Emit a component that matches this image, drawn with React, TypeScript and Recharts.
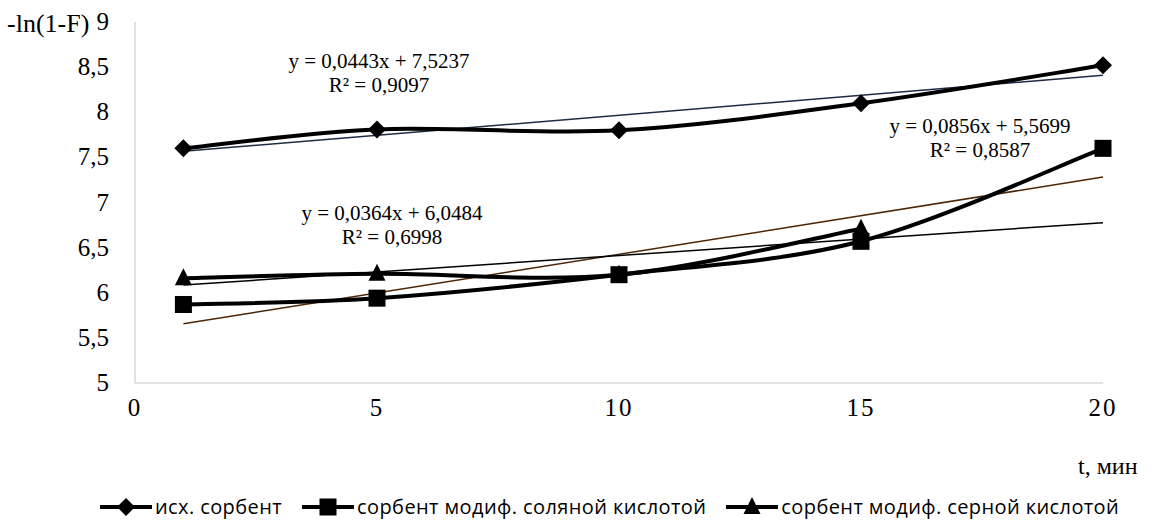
import React from "react";
import { ComposedChart, Line, XAxis, YAxis, Legend } from "recharts";

// время, мин
const timePoints = [1, 5, 10, 15, 20];
const timePointsH2SO4 = [1, 5, 10, 15];

// -ln(1-F)
const ishSorbent = [7.6, 7.81, 7.8, 8.1, 8.52];
const hclSorbent = [5.87, 5.94, 6.2, 6.57, 7.6];
const h2so4Sorbent = [6.16, 6.21, 6.2, 6.71];

// linear trend lines (from the equations shown on the chart)
const trendRange = [1, 20];
const trendSlopes = [0.0443, 0.0856, 0.0364];
const trendIntercepts = [7.5237, 5.5699, 6.0484];
const trendLabels = [
  ["y = 0,0443x + 7,5237", "R² = 0,9097"],
  ["y = 0,0856x + 5,5699", "R² = 0,8587"],
  ["y = 0,0364x + 6,0484", "R² = 0,6998"],
];

const xTicks = [0, 5, 10, 15, 20];
const yTicks = [5, 5.5, 6, 6.5, 7, 7.5, 8, 8.5, 9];

const seriesNames = [
  "исх. сорбент",
  "сорбент модиф. соляной кислотой",
  "сорбент модиф. серной кислотой",
];

const SERIF = "Liberation Serif";

const toPoints = (xs: number[], ys: number[]) => xs.map((x, i) => ({ x, y: ys[i] }));
const trendPoints = (i: number) =>
  trendRange.map((x) => ({ x, y: trendSlopes[i] * x + trendIntercepts[i] }));

// Excel-like smoothed line (Catmull-Rom through the points)
const excelSmooth = (context: any) => {
  let pts: number[][] = [];
  return {
    areaStart() {},
    areaEnd() {},
    lineStart() {
      pts = [];
    },
    lineEnd() {
      if (!pts.length) return;
      context.moveTo(pts[0][0], pts[0][1]);
      for (let i = 0; i < pts.length - 1; i++) {
        const p0 = pts[i - 1] || pts[i];
        const p1 = pts[i];
        const p2 = pts[i + 1];
        const p3 = pts[i + 2] || p2;
        context.bezierCurveTo(
          p1[0] + (p2[0] - p0[0]) / 6,
          p1[1] + (p2[1] - p0[1]) / 6,
          p2[0] - (p3[0] - p1[0]) / 6,
          p2[1] - (p3[1] - p1[1]) / 6,
          p2[0],
          p2[1]
        );
      }
    },
    point(x: number, y: number) {
      pts.push([+x, +y]);
    },
  };
};

const Marker = ({ kind, cx, cy }: { kind: string; cx: number; cy: number }) => {
  if (kind === "diamond")
    return <path d={`M${cx},${cy - 9}L${cx + 9},${cy}L${cx},${cy + 9}L${cx - 9},${cy}Z`} fill="#000" />;
  if (kind === "square") return <rect x={cx - 8.5} y={cy - 8.5} width={17} height={17} fill="#000" />;
  return <path d={`M${cx},${cy - 10}L${cx + 8.5},${cy + 7}L${cx - 8.5},${cy + 7}Z`} fill="#000" />;
};

const markerKinds = ["diamond", "square", "triangle"];

const dotFor = (kind: string) => (props: any) =>
  <Marker key={`${kind}-${props.index}`} kind={kind} cx={props.cx} cy={props.cy} />;

const XTick = ({ x, y, payload }: any) => (
  <text
    x={x}
    y={y + 25}
    textAnchor="middle"
    fontFamily={SERIF}
    fontSize={25}
    letterSpacing={2}
    fill="#000"
  >
    {payload.value}
  </text>
);

const YTick = ({ x, y, payload }: any) => (
  <text x={x - 18} y={y + 8} textAnchor="end" fontFamily={SERIF} fontSize={25} fill="#000">
    {String(payload.value).replace(".", ",")}
  </text>
);

const LegendContent = () => (
  <div
    style={{
      display: "flex",
      gap: 20,
      fontFamily: "'Open Sans', sans-serif",
      fontSize: 20,
      letterSpacing: 0.4,
      color: "#000",
      lineHeight: "26px",
    }}
  >
    {seriesNames.map((name, i) => (
      <div key={name} style={{ display: "flex", alignItems: "center" }}>
        <svg width={52} height={22}>
          <line x1={0} y1={11} x2={52} y2={11} stroke="#000" strokeWidth={4} />
          <Marker kind={markerKinds[i]} cx={26} cy={11} />
        </svg>
        <span style={{ marginLeft: 3 }}>{name}</span>
      </div>
    ))}
  </div>
);

const textStyle: React.CSSProperties = {
  position: "absolute",
  fontFamily: SERIF,
  color: "#000",
  whiteSpace: "nowrap",
};

const labelPos = [
  { left: 379, top: 49 },
  { left: 980, top: 114 },
  { left: 392, top: 201 },
];

export default function App() {
  return (
    <div style={{ position: "relative", width: 1155, height: 525, background: "#fff" }}>
      <style>{`body{margin:0}`}</style>
      <ComposedChart
        width={1155}
        height={525}
        margin={{ top: 22, right: 52, left: 0, bottom: 76 }}
      >
        <XAxis
          type="number"
          dataKey="x"
          domain={[0, 20]}
          ticks={xTicks}
          tickLine={false}
          axisLine={{ stroke: "#d9d9d9", strokeWidth: 1.5 }}
          height={40}
          tick={<XTick />}
        />
        <YAxis
          type="number"
          domain={[5, 9]}
          ticks={yTicks}
          width={135}
          tickLine={false}
          axisLine={{ stroke: "#d9d9d9", strokeWidth: 1.5 }}
          tick={<YTick />}
        />
        <Legend
          verticalAlign="bottom"
          content={<LegendContent />}
          wrapperStyle={{ top: 494, bottom: "auto", left: 100, width: 1055 }}
        />
        {/* trend lines */}
        <Line data={trendPoints(0)} dataKey="y" stroke="#1f2a44" strokeWidth={1.5} dot={false} legendType="none" isAnimationActive={false} />
        <Line data={trendPoints(1)} dataKey="y" stroke="#4d2608" strokeWidth={1.5} dot={false} legendType="none" isAnimationActive={false} />
        <Line data={trendPoints(2)} dataKey="y" stroke="#000" strokeWidth={1.5} dot={false} legendType="none" isAnimationActive={false} />
        {/* data series */}
        <Line
          name={seriesNames[0]}
          data={toPoints(timePoints, ishSorbent)}
          dataKey="y"
          type={excelSmooth as any}
          stroke="#000"
          strokeWidth={4}
          dot={dotFor("diamond")}
          isAnimationActive={false}
        />
        <Line
          name={seriesNames[1]}
          data={toPoints(timePoints, hclSorbent)}
          dataKey="y"
          type={excelSmooth as any}
          stroke="#000"
          strokeWidth={4}
          dot={dotFor("square")}
          isAnimationActive={false}
        />
        <Line
          name={seriesNames[2]}
          data={toPoints(timePointsH2SO4, h2so4Sorbent)}
          dataKey="y"
          type={excelSmooth as any}
          stroke="#000"
          strokeWidth={4}
          dot={dotFor("triangle")}
          isAnimationActive={false}
        />
      </ComposedChart>

      <div style={{ ...textStyle, left: 7, top: 9, fontSize: 26 }}>-ln(1-F)</div>
      <div style={{ ...textStyle, left: 1078, top: 453, fontSize: 24 }}>t, мин</div>
      {trendLabels.map((lines, i) => (
        <div
          key={i}
          style={{
            ...textStyle,
            left: labelPos[i].left,
            top: labelPos[i].top,
            transform: "translateX(-50%)",
            textAlign: "center",
            fontSize: 21,
            lineHeight: "24px",
          }}
        >
          {lines[0]}
          <br />
          {lines[1]}
        </div>
      ))}
    </div>
  );
}
